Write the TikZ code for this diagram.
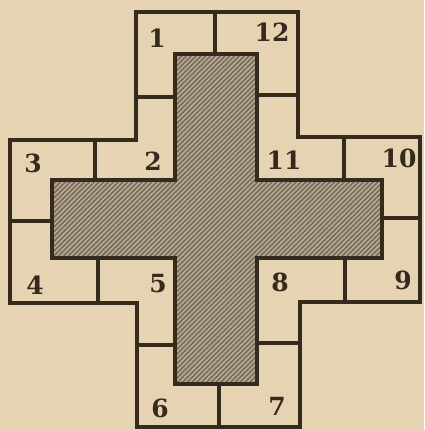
\documentclass[tikz,border=0pt]{standalone}
\usepackage{fontspec}
\setmainfont{DejaVu Serif}
\usetikzlibrary{patterns.meta}
\definecolor{paper}{RGB}{229,211,178}
\definecolor{ink}{RGB}{52,42,30}
\definecolor{shade}{RGB}{186,172,148}
\definecolor{hatch}{RGB}{118,106,90}
\tikzset{
  wall/.style={draw=ink,line width=3.6pt,line join=miter},
  divider/.style={draw=ink,line width=3.4pt},
  core/.style={pattern={Lines[angle=45,distance=3.4pt,line width=1.6pt]},pattern color=hatch},
  num/.style={font=\bfseries\fontsize{25}{25}\selectfont,text=ink,inner sep=0pt}
}
\begin{document}
\begin{tikzpicture}[x=1pt,y=-1pt]
\fill[paper] (0,0) rectangle (424,430);
\useasboundingbox (0,0) rectangle (424,430);
% outer cross
\draw[wall] (136,12) -- (298,12) -- (298,137) -- (420,137) -- (420,302) -- (300,302) -- (300,427) -- (137,427) -- (137,303) -- (10,303) -- (10,140) -- (136,140) -- cycle;
% inner shaded cross
\path[fill=shade] (175,54) -- (257,54) -- (257,180) -- (382,180) -- (382,258) -- (257,258) -- (257,384) -- (175,384) -- (175,258) -- (52,258) -- (52,180) -- (175,180) -- cycle;
\path[core] (175,54) -- (257,54) -- (257,180) -- (382,180) -- (382,258) -- (257,258) -- (257,384) -- (175,384) -- (175,258) -- (52,258) -- (52,180) -- (175,180) -- cycle;
\draw[wall] (175,54) -- (257,54) -- (257,180) -- (382,180) -- (382,258) -- (257,258) -- (257,384) -- (175,384) -- (175,258) -- (52,258) -- (52,180) -- (175,180) -- cycle;
% dividers
\draw[divider] (215,12) -- (215,54);
\draw[divider] (136,97) -- (175,97);
\draw[divider] (257,95) -- (298,95);
\draw[divider] (95,140) -- (95,180);
\draw[divider] (10,221) -- (52,221);
\draw[divider] (98,258) -- (98,303);
\draw[divider] (344,137) -- (344,180);
\draw[divider] (382,218) -- (420,218);
\draw[divider] (345,258) -- (345,302);
\draw[divider] (137,345) -- (175,345);
\draw[divider] (257,343) -- (300,343);
\draw[divider] (219,384) -- (219,427);
% labels
\node[num] (n1) at (157,38) {1};
\node[num] (n12) at (272,32) {12};
\node[num] (n3) at (33,163) {3};
\node[num] (n2) at (153,161) {2};
\node[num] (n11) at (284,160) {11};
\node[num] (n10) at (399,158) {10};
\node[num] (n4) at (35,285) {4};
\node[num] (n5) at (158,284) {5};
\node[num] (n8) at (280,282) {8};
\node[num] (n9) at (403,280) {9};
\node[num] (n6) at (160,408) {6};
\node[num] (n7) at (277,406) {7};
\end{tikzpicture}
\end{document}
